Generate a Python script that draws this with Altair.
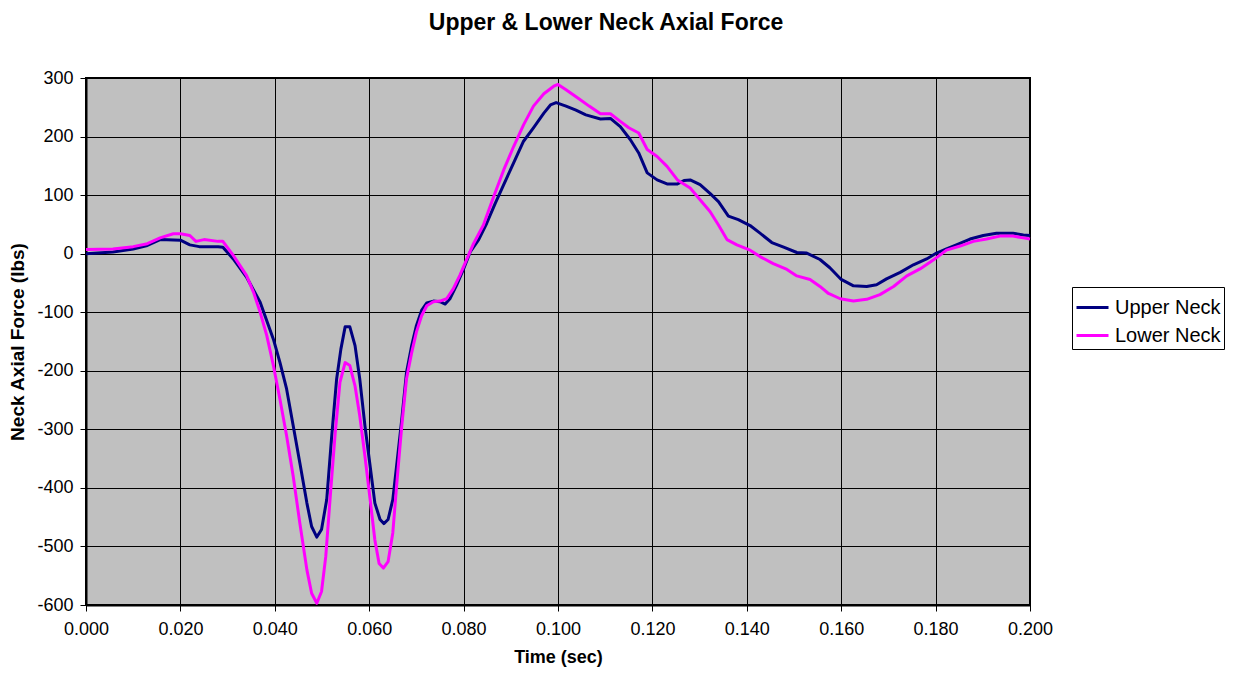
import altair as alt
import pandas as pd

# ---- data ----
upper_time = [0.000, 0.0057, 0.010, 0.013, 0.0157, 0.020, 0.022, 0.024, 0.028, 0.029,
              0.0312, 0.034, 0.0369, 0.0397, 0.0411, 0.0425, 0.0439, 0.0453, 0.0468, 0.0478,
              0.0489, 0.0499, 0.051, 0.052, 0.0531, 0.054, 0.0549, 0.0559, 0.057, 0.058,
              0.0591, 0.0602, 0.0612, 0.0623, 0.0631, 0.064, 0.065, 0.0658, 0.0669, 0.0679,
              0.069, 0.070, 0.0711, 0.0722, 0.0736, 0.075, 0.0761, 0.0771, 0.0785, 0.080,
              0.0814, 0.0832, 0.0849, 0.0867, 0.0885, 0.0906, 0.0927, 0.0948, 0.097, 0.0984,
              0.0996, 0.1017, 0.1038, 0.1059, 0.109, 0.1111, 0.1132, 0.1153, 0.1171, 0.1189,
              0.121, 0.1231, 0.1253, 0.1267, 0.128, 0.1301, 0.1322, 0.134, 0.1361, 0.1382,
              0.1407, 0.1428, 0.1453, 0.1478, 0.1506, 0.1527, 0.1555, 0.1576, 0.160, 0.1626,
              0.1654, 0.1675, 0.1696, 0.1725, 0.1753, 0.1781, 0.1802, 0.1823, 0.1844, 0.1873,
              0.1901, 0.1929, 0.1964, 0.1986, 0.200]
upper_force = [0, 3, 8, 14, 24, 23, 15, 12, 12, 11,
               -9, -40, -83, -146, -186, -231, -294, -357, -426, -466,
               -484, -471, -420, -317, -214, -163, -125, -125, -157, -214,
               -294, -363, -426, -454, -461, -454, -420, -363, -283, -203,
               -157, -123, -97, -84, -81, -82, -86, -77, -54, -26,
               3, 24, 52, 86, 118, 155, 192, 215, 240, 254,
               258, 252, 245, 237, 230, 231, 217, 195, 172, 138,
               126, 119, 119, 125, 126, 118, 103, 89, 64, 58,
               48, 35, 19, 11, 2, 1, -10, -24, -44, -55,
               -56, -53, -43, -32, -19, -9, 1, 8, 15, 25,
               31, 35, 35, 32, 31]

lower_time = [0.000, 0.0057, 0.010, 0.013, 0.0157, 0.0185, 0.020, 0.022, 0.0233, 0.025,
              0.028, 0.029, 0.0312, 0.034, 0.0355, 0.0369, 0.0383, 0.0397, 0.0411, 0.0425,
              0.0439, 0.0453, 0.0468, 0.0478, 0.0489, 0.0499, 0.0508, 0.0517, 0.0528, 0.0538,
              0.0549, 0.0559, 0.057, 0.058, 0.0591, 0.0602, 0.0612, 0.0621, 0.063, 0.064,
              0.065, 0.0658, 0.0669, 0.0679, 0.069, 0.070, 0.0711, 0.0722, 0.0736, 0.075,
              0.0764, 0.0778, 0.0792, 0.0807, 0.0821, 0.0842, 0.0864, 0.0885, 0.0906, 0.0927,
              0.0948, 0.097, 0.0991, 0.100, 0.1017, 0.1045, 0.1066, 0.109, 0.1111, 0.1132,
              0.115, 0.1171, 0.1189, 0.121, 0.1231, 0.1253, 0.128, 0.1301, 0.1322, 0.134,
              0.1358, 0.1379, 0.1407, 0.1428, 0.1456, 0.1485, 0.1506, 0.1534, 0.1555, 0.1573,
              0.1598, 0.1626, 0.1654, 0.1682, 0.1711, 0.1739, 0.1767, 0.1795, 0.1823, 0.1852,
              0.188, 0.1908, 0.1936, 0.1964, 0.1986, 0.200]
lower_force = [7, 8, 12, 17, 27, 34, 34, 31, 21, 24,
               21, 21, -3, -37, -66, -100, -140, -191, -249, -311,
               -380, -460, -540, -580, -597, -577, -517, -420, -306, -220,
               -186, -191, -226, -277, -346, -420, -489, -529, -537, -526,
               -477, -397, -294, -214, -169, -134, -106, -89, -82, -81,
               -77, -60, -37, -9, 17, 49, 98, 143, 183, 220,
               252, 273, 286, 289, 280, 264, 252, 239, 239, 226,
               215, 206, 178, 166, 149, 126, 112, 92, 72, 49,
               24, 15, 6, -5, -17, -27, -38, -44, -56, -68,
               -77, -81, -78, -70, -56, -38, -26, -11, 6, 13,
               21, 25, 30, 30, 27, 25]

series_names = ["Upper Neck", "Lower Neck"]
series_colors = ["#000080", "#FF00FF"]
x_ticks = [0.00, 0.02, 0.04, 0.06, 0.08, 0.10, 0.12, 0.14, 0.16, 0.18, 0.20]
y_ticks = [300, 200, 100, 0, -100, -200, -300, -400, -500, -600]

df_upper = pd.DataFrame({"time": upper_time, "force": upper_force, "series": series_names[0]})
df_lower = pd.DataFrame({"time": lower_time, "force": lower_force, "series": series_names[1]})

FONT = "Liberation Sans"

x_enc = alt.X("time:Q", scale=alt.Scale(domain=[0, 0.2], nice=False),
              axis=alt.Axis(values=x_ticks, format=".3f", title="Time (sec)",
                            labelFlush=False, labelOverlap=False,
                            titleFontSize=18, titlePadding=10, labelPadding=9))
y_enc = alt.Y("force:Q", scale=alt.Scale(domain=[-600, 300], nice=False),
              axis=alt.Axis(values=y_ticks, title="Neck Axial Force (lbs)",
                            labelExpr="'' + datum.value", labelFlush=False,
                            labelOverlap=False, titleFontSize=19, titlePadding=9,
                            labelPadding=7))
color_enc = alt.Color("series:N",
                      scale=alt.Scale(domain=series_names, range=series_colors),
                      legend=alt.Legend(title=None, orient="none", legendX=986, legendY=209,
                                        symbolType="stroke", symbolSize=1024,
                                        symbolStrokeWidth=3, labelFontSize=20,
                                        labelFont=FONT, labelColor="black",
                                        labelOffset=5, rowPadding=-1,
                                        padding=3, strokeColor="black",
                                        fillColor="white", labelLimit=300))

upper = alt.Chart(df_upper).mark_line(strokeWidth=3, strokeJoin="round").encode(
    x=x_enc, y=y_enc, color=color_enc)
lower = alt.Chart(df_lower).mark_line(strokeWidth=3, strokeJoin="round").encode(
    x=x_enc, y=y_enc, color=color_enc)

chart = alt.layer(upper, lower).properties(
    width=944, height=527,
    autosize=alt.AutoSizeParams(type="none"),
    padding={"left": 78, "top": 70, "right": 200, "bottom": 64},
    title=alt.Title("Upper & Lower Neck Axial Force", fontSize=23, font=FONT,
                    fontWeight="bold", color="black", anchor="middle", frame="group",
                    dx=48, offset=16, baseline="alphabetic"),
).configure_view(
    fill="#C0C0C0", stroke="black", strokeWidth=2
).configure_axis(
    labelFont=FONT, labelFontSize=18, labelColor="black",
    titleFont=FONT, titleFontWeight="bold", titleColor="black",
    grid=True, gridColor="black", gridWidth=1, gridOpacity=1,
    domainColor="black", domainWidth=2, tickColor="black", tickSize=6, tickWidth=1
)

chart.save("out.html", embed_options={"renderer": "svg", "actions": False})
